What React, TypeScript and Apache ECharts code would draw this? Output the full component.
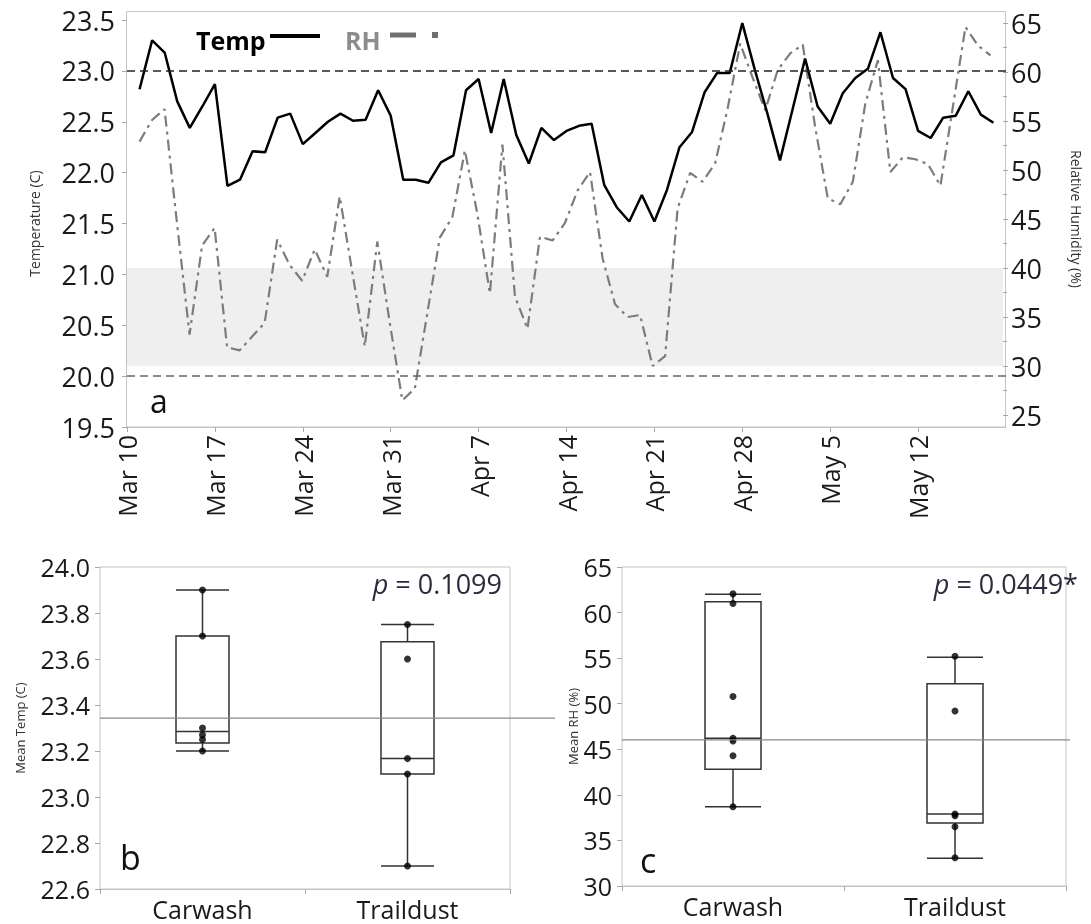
import React, { useEffect, useRef } from "react";
import * as echarts from "echarts";

const FONT = "'Open Sans', 'Noto Sans', sans-serif";

// daily categories Mar 10 .. May 19
const dayCategories: string[] = [];
for (let d = 10; d <= 31; d++) dayCategories.push(`Mar ${d}`);
for (let d = 1; d <= 30; d++) dayCategories.push(`Apr ${d}`);
for (let d = 1; d <= 19; d++) dayCategories.push(`May ${d}`);

const tickLabels = ["Mar 10", "Mar 17", "Mar 24", "Mar 31", "Apr 7", "Apr 14", "Apr 21", "Apr 28", "May 5", "May 12"];

const tempC = [null,
  22.82, 23.30, 23.18, 22.70, 22.44, 22.65, 22.87, 21.87, 21.93, 22.21,
  22.20, 22.54, 22.58, 22.28, 22.39, 22.50, 22.58, 22.51, 22.52, 22.81,
  22.56, 21.93, 21.93, 21.90, 22.10, 22.17, 22.81, 22.92, 22.39, 22.92,
  22.37, 22.09, 22.44, 22.32, 22.41, 22.46, 22.48, 21.88, 21.66, 21.52,
  21.78, 21.52, 21.83, 22.25, 22.40, 22.79, 22.98, 22.98, 23.47, 23.01,
  22.58, 22.12, 22.62, 23.12, 22.65, 22.48, 22.78, 22.93, 23.02, 23.38,
  22.93, 22.82, 22.41, 22.34, 22.54, 22.56, 22.80, 22.57, 22.49, null];

const rhPct = [null,
  52.9, 55.1, 56.2, 44.5, 33.2, 42.3, 44.1, 31.9, 31.6, 33.0,
  34.4, 42.9, 40.3, 38.7, 41.9, 39.1, 47.3, 39.6, 32.0, 42.7,
  34.4, 26.5, 27.7, 35.4, 43.1, 45.2, 52.0, 45.5, 37.4, 52.6,
  37.1, 33.8, 43.2, 42.8, 44.6, 47.9, 49.8, 41.0, 36.3, 35.0,
  35.2, 30.0, 31.0, 46.1, 49.7, 48.8, 50.7, 56.3, 62.9, 59.4,
  56.1, 60.2, 61.9, 62.8, 54.3, 47.1, 46.5, 48.8, 56.8, 61.2,
  49.8, 51.3, 51.1, 50.6, 48.4, 56.5, 64.6, 62.7, 61.7, null];

const tempUpper = 23.0;
const tempLower = 20.0;
const rhBand = [30, 40];

const groups = ["Carwash", "Traildust"];
// boxplot: [min, Q1, median, Q3, max]
const tempBoxCarwash = [23.2, 23.235, 23.285, 23.70, 23.90];
const tempBoxTraildust = [22.70, 23.10, 23.167, 23.675, 23.75];
const tempPtsCarwash = [23.9, 23.7, 23.30, 23.27, 23.25, 23.2];
const tempPtsTraildust = [23.75, 23.60, 23.167, 23.10, 22.70];
const tempMean = 23.343;

const rhBoxCarwash = [38.7, 42.8, 46.2, 61.2, 62.0];
const rhBoxTraildust = [33.05, 36.9, 37.9, 52.2, 55.1];
const rhPtsCarwash = [62.05, 61.0, 50.8, 46.2, 45.9, 44.3, 38.7];
const rhPtsTraildust = [55.2, 49.2, 37.9, 37.7, 36.5, 33.1];
const rhMean = 46.03;

const pTemp = "0.1099";
const pRH = "0.0449*";

const isTick = (_i: number, v: string) => tickLabels.includes(v);

const FRAME = "#c4c4c4";
const TICK = "#a8a8a8";
const LABEL = "#1a1a1a";

export default function App() {
  const ref = useRef<HTMLDivElement>(null);
  useEffect(() => {
    if (!ref.current) return;
    const chart = echarts.init(ref.current, undefined, { renderer: "svg" });
    const bGrid = { left: 100, top: 567, width: 410, height: 322 };
    const cGrid = { left: 622, top: 567, width: 444, height: 319 };
    const catAxis = (gi: number) => ({
      type: "category", gridIndex: gi, data: groups,
      axisLine: { show: true, lineStyle: { color: FRAME } },
      axisTick: { show: true, length: 5, lineStyle: { color: TICK } },
      axisLabel: { fontSize: 25, color: LABEL, margin: 7, fontFamily: FONT },
    });
    const option: any = {
      animation: false,
      textStyle: { fontFamily: FONT },
      grid: [
        { left: 127, right: 85, top: 20, height: 407 },
        { left: 127, right: 85, top: 23, height: 392 },
        { ...bGrid, show: true, borderColor: FRAME, borderWidth: 1, backgroundColor: "transparent" },
        { ...cGrid, show: true, borderColor: FRAME, borderWidth: 1, backgroundColor: "transparent" },
      ],
      xAxis: [
        {
          type: "category", gridIndex: 0, data: dayCategories, boundaryGap: false,
          axisLine: { show: true, lineStyle: { color: FRAME } },
          axisTick: { show: true, interval: isTick, length: 5, lineStyle: { color: TICK } },
          axisLabel: { interval: isTick, rotate: 90, fontSize: 25, color: LABEL, margin: 8, fontFamily: FONT },
          splitLine: { show: false },
        },
        { type: "category", gridIndex: 1, data: dayCategories, boundaryGap: false, show: false },
        catAxis(2),
        catAxis(3),
      ],
      yAxis: [
        {
          type: "value", gridIndex: 0, min: 19.5, max: 23.5, interval: 0.5, position: "left",
          axisLine: { show: false },
          axisTick: { show: true, length: 5, lineStyle: { color: TICK } },
          splitLine: { show: false },
          axisLabel: { formatter: (v: number) => v.toFixed(1), fontSize: 27, color: LABEL, margin: 12, fontFamily: FONT },
          name: "Temperature (C)", nameLocation: "middle", nameGap: 86,
          nameTextStyle: { fontSize: 14, color: "#333", fontFamily: FONT },
        },
        {
          type: "value", gridIndex: 1, min: 25, max: 65, interval: 5, position: "right",
          axisLine: { show: false },
          axisTick: { show: true, length: 5, lineStyle: { color: TICK } },
          minorTick: { show: true, splitNumber: 2, length: 4, lineStyle: { color: TICK } },
          splitLine: { show: false }, minorSplitLine: { show: false },
          axisLabel: { fontSize: 27, color: LABEL, margin: 8, fontFamily: FONT },
          name: "Relative Humidity (%)", nameLocation: "middle", nameGap: 66, nameRotate: -90,
          nameTextStyle: { fontSize: 14, color: "#333", fontFamily: FONT },
        },
        {
          type: "value", gridIndex: 2, min: 22.6, max: 24.0, interval: 0.2,
          axisLine: { show: false },
          axisTick: { show: true, length: 5, lineStyle: { color: TICK } },
          splitLine: { show: false },
          axisLabel: { formatter: (v: number) => v.toFixed(1), fontSize: 25, color: LABEL, margin: 10, fontFamily: FONT },
          name: "Mean Temp (C)", nameLocation: "middle", nameGap: 74,
          nameTextStyle: { fontSize: 13, color: "#333", fontFamily: FONT },
        },
        {
          type: "value", gridIndex: 3, min: 30, max: 65, interval: 5,
          axisLine: { show: false },
          axisTick: { show: true, length: 5, lineStyle: { color: TICK } },
          splitLine: { show: false },
          axisLabel: { fontSize: 25, color: LABEL, margin: 10, fontFamily: FONT },
          name: "Mean RH (%)", nameLocation: "middle", nameGap: 42,
          nameTextStyle: { fontSize: 13, color: "#333", fontFamily: FONT },
        },
      ],
      series: [
        {
          type: "line", xAxisIndex: 1, yAxisIndex: 1, data: [], z: 1, silent: true,
          markArea: { silent: true, itemStyle: { color: "#efefef" }, data: [[{ yAxis: rhBand[0] }, { yAxis: rhBand[1] }]] },
        },
        {
          name: "RH", type: "line", xAxisIndex: 1, yAxisIndex: 1, data: rhPct, symbol: "none", z: 3,
          lineStyle: { color: "#7c7c7c", width: 2.2, type: [11, 5, 3, 5] },
        },
        {
          name: "Temp", type: "line", xAxisIndex: 0, yAxisIndex: 0, data: tempC, symbol: "none", z: 4,
          lineStyle: { color: "#000", width: 2.5 },
          markLine: {
            silent: true, symbol: "none", label: { show: false },
            data: [
              { yAxis: tempUpper, lineStyle: { color: "#222", type: [8, 5], width: 1.5 } },
              { yAxis: tempLower, lineStyle: { color: "#666", type: [8, 5], width: 1.5 } },
            ],
          },
        },
        {
          type: "boxplot", xAxisIndex: 2, yAxisIndex: 2, data: [tempBoxCarwash, tempBoxTraildust],
          boxWidth: [53, 53], itemStyle: { color: "rgba(0,0,0,0)", borderColor: "#333", borderWidth: 1.5 },
        },
        {
          type: "scatter", xAxisIndex: 2, yAxisIndex: 2, symbolSize: 7, itemStyle: { color: "#000" }, z: 5,
          data: [...tempPtsCarwash.map((v) => [groups[0], v]), ...tempPtsTraildust.map((v) => [groups[1], v])],
        },
        {
          type: "boxplot", xAxisIndex: 3, yAxisIndex: 3, data: [rhBoxCarwash, rhBoxTraildust],
          boxWidth: [56, 56], itemStyle: { color: "rgba(0,0,0,0)", borderColor: "#333", borderWidth: 1.5 },
        },
        {
          type: "scatter", xAxisIndex: 3, yAxisIndex: 3, symbolSize: 7, itemStyle: { color: "#000" }, z: 5,
          data: [...rhPtsCarwash.map((v) => [groups[0], v]), ...rhPtsTraildust.map((v) => [groups[1], v])],
        },
      ],
    };
    chart.setOption(option);

    const yT = chart.convertToPixel({ yAxisIndex: 2 } as any, tempMean) as number;
    const yR = chart.convertToPixel({ yAxisIndex: 3 } as any, rhMean) as number;
    const pStyle = (val: string, x: number) => ({
      type: "text", x, y: 583, silent: true,
      style: {
        text: `{i|p} = ${val}`, align: "right", verticalAlign: "middle",
        fontSize: 27, fontFamily: FONT, fill: "#2b2b3b",
        rich: { i: { fontStyle: "italic", fontSize: 27, fontFamily: FONT, fill: "#2b2b3b", color: "#2b2b3b" } },
      },
    });
    chart.setOption({
      graphic: {
        elements: [
          { type: "rect", silent: true, shape: { x: 126.5, y: 11.5, width: 879, height: 415.5 }, style: { fill: "none", stroke: FRAME, lineWidth: 1 } },
          { type: "text", x: 196, y: 40, silent: true, style: { text: "Temp", fontSize: 25, fontWeight: "bold", fontFamily: FONT, fill: "#000", verticalAlign: "middle" } },
          { type: "line", silent: true, shape: { x1: 270, y1: 36, x2: 320, y2: 36 }, style: { stroke: "#000", lineWidth: 4 } },
          { type: "text", x: 345, y: 40, silent: true, style: { text: "RH", fontSize: 25, fontWeight: "bold", fontFamily: FONT, fill: "#8c8c8c", verticalAlign: "middle" } },
          { type: "line", silent: true, shape: { x1: 390, y1: 35, x2: 416, y2: 35 }, style: { stroke: "#707070", lineWidth: 5 } },
          { type: "rect", silent: true, shape: { x: 432, y: 32, width: 6, height: 6 }, style: { fill: "#707070" } },
          { type: "text", x: 150, y: 400, silent: true, style: { text: "a", fontSize: 32, fontFamily: FONT, fill: "#111", verticalAlign: "middle" } },
          { type: "text", x: 120, y: 857, silent: true, style: { text: "b", fontSize: 34, fontFamily: FONT, fill: "#111", verticalAlign: "middle" } },
          { type: "text", x: 640, y: 860, silent: true, style: { text: "c", fontSize: 34, fontFamily: FONT, fill: "#111", verticalAlign: "middle" } },
          pStyle(pTemp, 502),
          pStyle(pRH, 1078),
          { type: "line", silent: true, z: 10, shape: { x1: 100, y1: yT, x2: 555, y2: yT }, style: { stroke: "#888", lineWidth: 1.2 } },
          { type: "line", silent: true, z: 10, shape: { x1: 622, y1: yR, x2: 1070, y2: yR }, style: { stroke: "#888", lineWidth: 1.2 } },
        ],
      },
    });
    return () => chart.dispose();
  }, []);
  return <div ref={ref} style={{ position: "fixed", left: 0, top: 0, width: 1091, height: 924 }} />;
}
